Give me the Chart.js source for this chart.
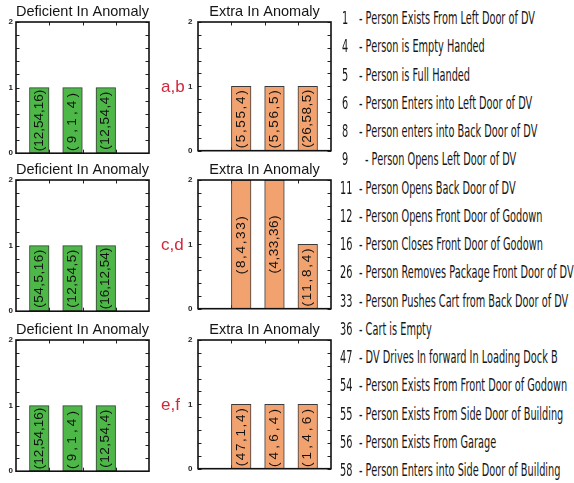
<!DOCTYPE html>
<html><head><meta charset="utf-8">
<script src="https://cdn.jsdelivr.net/npm/chart.js@4/dist/chart.umd.min.js"></script>
<style>
html,body{margin:0;padding:0;background:#fff;}
#wrap{position:relative;width:574px;height:483px;overflow:hidden;background:#fff;}
canvas{position:absolute;}
.li{position:absolute;left:0;height:20px;white-space:nowrap;font-family:"DejaVu Sans",sans-serif;font-size:18px;line-height:20px;color:#161616;}
.li span{position:absolute;top:0;transform-origin:0 50%;}
</style></head><body>
<div id="wrap">
  <canvas id="c00" width="195" height="159" style="left:0;top:2px"></canvas>
  <canvas id="c01" width="153" height="159" style="left:180px;top:2px"></canvas>
  <canvas id="c10" width="195" height="159" style="left:0;top:160px"></canvas>
  <canvas id="c11" width="153" height="159" style="left:180px;top:160px"></canvas>
  <canvas id="c20" width="195" height="159" style="left:0;top:320px"></canvas>
  <canvas id="c21" width="153" height="159" style="left:180px;top:320px"></canvas>
  <div id="legend"></div>
</div>
<script>
// ---------------- data ----------------
const categories = [1, 2, 3];
const rowLabels = ['a,b', 'c,d', 'e,f'];
const panelTitles = ['Deficient In Anomaly', 'Extra In Anomaly'];

const deficientAB = [1, 1, 1];
const deficientABLabels = ['(12,54,16)', '(9,1,4)', '(12,54,4)'];
const extraAB = [1, 1, 1];
const extraABLabels = ['(5,55,4)', '(5,56,5)', '(26,58,5)'];

const deficientCD = [1, 1, 1];
const deficientCDLabels = ['(54,5,16)', '(12,54,5)', '(16,12,54)'];
const extraCD = [2, 2, 1];
const extraCDLabels = ['(8,4,33)', '(4,33,36)', '(11,8,4)'];

const deficientEF = [1, 1, 1];
const deficientEFLabels = ['(12,54,16)', '(9,1,4)', '(12,54,4)'];
const extraEF = [1, 1, 1];
const extraEFLabels = ['(47,1,4)', '(4,6,4)', '(1,4,6)'];

const legendCodes = ['1','4','5','6','8','9','11','12','16','26','33','36','47','54','55','56','58'];
const legendTexts = [
  '- Person Exists From Left Door of DV',
  '- Person is Empty Handed',
  '- Person is Full Handed',
  '- Person Enters into Left Door of DV',
  '- Person enters into Back Door of DV',
  '- Person Opens Left Door of DV',
  '- Person Opens Back Door of DV',
  '- Person Opens Front Door of Godown',
  '- Person Closes Front Door of Godown',
  '- Person Removes Package Front Door of DV',
  '- Person Pushes Cart from Back Door of DV',
  '- Cart is Empty',
  '- DV Drives In forward In Loading Dock B',
  '- Person Exists From Front Door of Godown',
  '- Person Exists From Side Door of Building',
  '- Person Exists From Garage',
  '- Person Enters into Side Door of Building'
];

// ---------------- styles ----------------
const GROUP_OFFSET = { def: -0.3, extra: 0.3 };
const FILL = { def: '#4db848', extra: '#f2a26f' };
const LABEL_LEN = 58;

const framePlugin = {
  id: 'frame',
  beforeDatasetsDraw(chart) {
    const { ctx, chartArea: a, scales: { x, y } } = chart;
    ctx.save();
    ctx.strokeStyle = '#222';
    ctx.lineWidth = 1;
    ctx.beginPath();
    y.ticks.forEach(t => {
      const py = Math.round(y.getPixelForValue(t.value)) + 0.5;
      ctx.moveTo(a.left, py); ctx.lineTo(a.left + 3.5, py);
      ctx.moveTo(a.right - 3.5, py); ctx.lineTo(a.right, py);
    });
    categories.forEach(c => {
      const px = Math.round(x.getPixelForValue(c)) + 0.5;
      ctx.moveTo(px, a.top); ctx.lineTo(px, a.top + 3.5);
      ctx.moveTo(px, a.bottom - 3.5); ctx.lineTo(px, a.bottom);
    });
    ctx.stroke();
    ctx.restore();
  },
  afterDraw(chart) {
    const { ctx, chartArea: a } = chart;
    ctx.save();
    ctx.strokeStyle = '#111';
    ctx.lineWidth = 1.6;
    ctx.strokeRect(a.left, a.top, a.right - a.left, a.bottom - a.top);
    ctx.restore();
  }
};

const barLabelPlugin = {
  id: 'barLabels',
  afterDatasetsDraw(chart) {
    const { ctx } = chart;
    const labels = chart.data.datasets[0].barTexts;
    chart.getDatasetMeta(0).data.forEach((bar, i) => {
      const p = bar.getProps(['x', 'y', 'base'], true);
      const cy = (p.y + p.base) / 2;
      ctx.save();
      ctx.translate(p.x, cy);
      ctx.rotate(-Math.PI / 2);
      ctx.font = '13.5px "Liberation Sans", Arial, sans-serif';
      ctx.fillStyle = '#111';
      ctx.textAlign = 'center';
      ctx.textBaseline = 'middle';
      const txt = labels[i];
      const w = ctx.measureText(txt).width;
      if (w < LABEL_LEN && 'letterSpacing' in ctx) {
        ctx.letterSpacing = ((LABEL_LEN - w) / (txt.length - 1)).toFixed(2) + 'px';
      }
      ctx.fillText(txt, 0, 0);
      ctx.restore();
    });
  }
};

const rowLabelPlugin = {
  id: 'rowLabel',
  afterDraw(chart) {
    const txt = chart.options.plugins.rowLabel && chart.options.plugins.rowLabel.text;
    if (!txt) return;
    const { ctx, chartArea: a, scales: { y } } = chart;
    ctx.save();
    ctx.font = '17px "Liberation Sans", Arial, sans-serif';
    ctx.fillStyle = '#d2283c';
    ctx.textAlign = 'left';
    ctx.textBaseline = 'middle';
    ctx.fillText(txt, a.right + 12, y.getPixelForValue(1));
    ctx.restore();
  }
};

function makeChart(id, kind, values, labels, rowLabel) {
  const isDef = kind === 'def';
  const points = categories.map((c, i) => ({ x: c + GROUP_OFFSET[kind], y: values[i] }));
  return new Chart(document.getElementById(id), {
    type: 'bar',
    data: {
      datasets: [{
        data: points,
        barTexts: labels,
        backgroundColor: FILL[kind],
        borderColor: '#3a3a3a',
        borderWidth: 1,
        borderSkipped: false,
        barThickness: 19.6
      }]
    },
    options: {
      responsive: false,
      animation: false,
      events: [],
      layout: { padding: { top: 0, right: isDef ? 46 : 2, bottom: 5, left: 0 } },
      plugins: {
        legend: { display: false },
        tooltip: { enabled: false },
        rowLabel: { text: rowLabel },
        title: {
          display: true,
          text: isDef ? panelTitles[0] : panelTitles[1],
          fullSize: false,
          color: '#151515',
          padding: 0,
          font: { family: '"Liberation Sans", Arial, sans-serif', size: 14.5, weight: 'normal', lineHeight: '20px' }
        }
      },
      scales: {
        x: { type: 'linear', min: 0, max: 4, offset: false, display: false, ticks: { stepSize: 1 } },
        y: {
          min: 0, max: 2,
          grid: { display: false, drawTicks: false },
          border: { display: false },
          ticks: {
            stepSize: 0.2, autoSkip: false, padding: isDef ? 3 : 5.5, color: '#222',
            font: { family: '"Liberation Sans", Arial, sans-serif', size: 8, weight: 'bold' },
            callback: v => Math.abs(v - Math.round(v)) < 1e-6 ? String(Math.round(v)) : ''
          },
          afterFit: s => { s.width = isDef ? 16 : 18; }
        }
      }
    },
    plugins: [framePlugin, barLabelPlugin, rowLabelPlugin]
  });
}

makeChart('c00', 'def', deficientAB, deficientABLabels, rowLabels[0]);
makeChart('c01', 'extra', extraAB, extraABLabels, null);
makeChart('c10', 'def', deficientCD, deficientCDLabels, rowLabels[1]);
makeChart('c11', 'extra', extraCD, extraCDLabels, null);
makeChart('c20', 'def', deficientEF, deficientEFLabels, rowLabels[2]);
makeChart('c21', 'extra', extraEF, extraEFLabels, null);

// ---------------- legend list ----------------
const legend = document.getElementById('legend');
const descSpans = [], codeSpans = [];
legendCodes.forEach((code, i) => {
  const row = document.createElement('div');
  row.className = 'li';
  row.style.top = (18 + 28.25 * i - 10) + 'px';
  const c = document.createElement('span');
  c.textContent = code;
  c.style.left = (code.length === 1 ? 342 : 340) + 'px';
  const d = document.createElement('span');
  d.textContent = legendTexts[i];
  d.style.left = (code === '9' ? 365 : 359) + 'px';
  row.appendChild(c); row.appendChild(d);
  legend.appendChild(row);
  codeSpans.push(c); descSpans.push(d);
});
const refW = descSpans[0].getBoundingClientRect().width;
const sx = 176 / refW;
descSpans.concat(codeSpans).forEach(s => { s.style.transform = 'scaleX(' + sx.toFixed(4) + ')'; });
</script>
</body></html>
